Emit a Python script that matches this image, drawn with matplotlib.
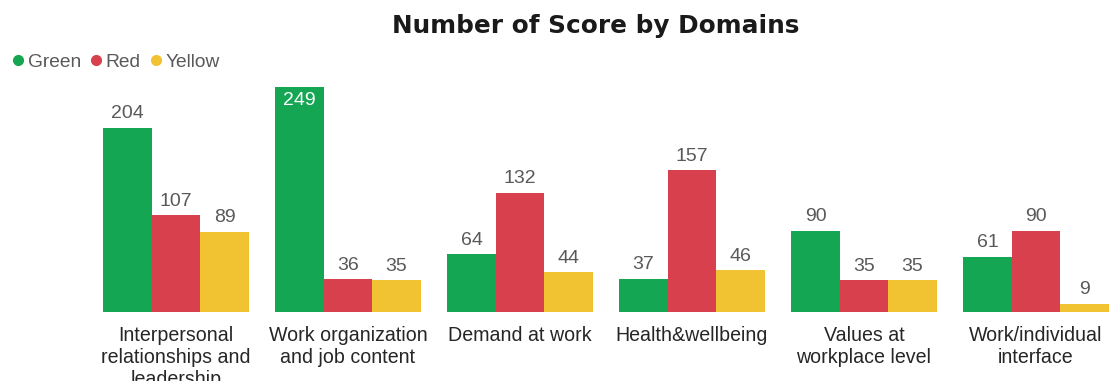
import numpy as np
import matplotlib
matplotlib.use('Agg')
import matplotlib.pyplot as plt
from matplotlib.lines import Line2D

# Data
domains = [
    'Interpersonal\nrelationships and\nleadership',
    'Work organization\nand job content',
    'Demand at work',
    'Health&wellbeing',
    'Values at\nworkplace level',
    'Work/individual\ninterface',
]
green = [204, 249, 64, 37, 90, 61]
red = [107, 36, 132, 157, 35, 90]
yellow = [89, 35, 44, 46, 35, 9]

series = ['Green', 'Red', 'Yellow']
colors = ['#14a653', '#d8404e', '#f1c232']

plt.rcParams['font.family'] = ['Liberation Sans', 'DejaVu Sans']

fig = plt.figure(figsize=(11.1, 3.81), dpi=100)
ax = fig.add_axes([90 / 1110, 69 / 381, 1020 / 1110, 235 / 381])

x = np.arange(len(domains))
width = 0.282
for i, (vals, col) in enumerate(zip([green, red, yellow], colors)):
    pos = x + (i - 1) * width
    bars = ax.bar(pos, vals, width=width, color=col)
    for b, v in zip(bars, vals):
        if v >= 240:
            # tallest bar: label sits inside the top of the bar
            ax.text(b.get_x() + b.get_width() / 2, v - 6, str(v), ha='center', va='top',
                    fontsize=14, color='white')
        else:
            ax.text(b.get_x() + b.get_width() / 2, v + 6, str(v), ha='center', va='bottom',
                    fontsize=14, color='#595959')

ax.set_xlim(-0.5, 5.43)
ax.set_ylim(0, 260)
ax.set_xticks(x)
ax.set_xticklabels(domains, fontsize=14.1, color='#262626', linespacing=1.2)
ax.tick_params(axis='x', length=0, pad=10)
ax.set_yticks([])
for s in ax.spines.values():
    s.set_visible(False)

fig.text(0.537, 0.932, 'Number of Score by Domains', ha='center', va='center',
         fontsize=17.8, fontweight='heavy', color='#1a1a1a', family='DejaVu Sans')

handles = [Line2D([], [], marker='o', linestyle='none', markersize=7,
                  markerfacecolor=c, markeredgecolor=c) for c in colors]
fig.legend(handles, series, loc='center left', bbox_to_anchor=(-0.008, 0.836),
           ncol=3, frameon=False, fontsize=13.8, handletextpad=0.0, columnspacing=0.3,
           handlelength=1.0, labelcolor='#595959')

fig.savefig('out.png', dpi=100)
